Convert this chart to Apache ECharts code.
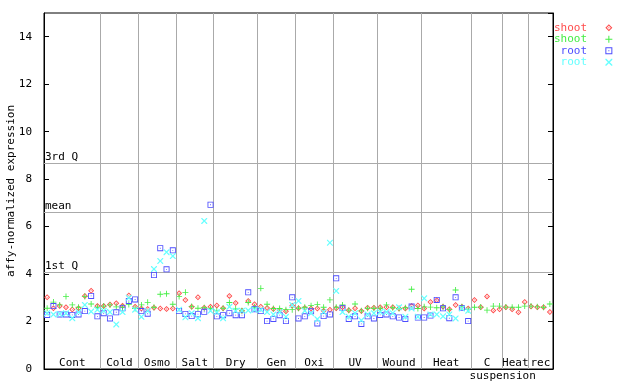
<!DOCTYPE html>
<html>
<head>
<meta charset="utf-8">
<script src="https://cdn.jsdelivr.net/npm/echarts@6/dist/echarts.min.js"></script>
<style>
html,body{margin:0;padding:0;background:#fff;}
#chart{width:640px;height:384px;}
</style>
</head>
<body>
<div id="chart"></div>
<script>
// Experiment groups along the x axis (number of samples in each)
var groupNames = ['Cont','Cold','Osmo','Salt','Dry','Gen','Oxi','UV','Wound','Heat','C','Heat','rec'];
var groupSizes = [9,6,6,6,7,6,6,7,7,8,5,4,4];
var subLabel = 'suspension';          // second line under the "C" group
var subLabelAt = 73;                  // group boundary it is centred on

// Reference statistic lines
var statValues = [4.07, 6.6, 8.66];
var statLabels = ['1st Q', 'mean', '3rd Q'];

// Y axis ticks
var yTicks = [0, 2, 4, 6, 8, 10, 12, 14];
var yMax = 15;

// Series (legend texts + values per sample, in group order)
var seriesLabels = ['shoot', 'shoot', 'root', 'root'];

var shootA = [
  3.02,2.56,2.65,2.60,2.51,2.56,3.08,3.30,2.65,   // Cont
  2.65,2.72,2.77,2.66,3.10,2.62,                  // Cold
  2.55,2.53,2.58,2.55,2.53,2.55,                  // Osmo
  3.19,2.91,2.62,3.02,2.58,2.62,                  // Salt
  2.68,2.56,3.08,2.78,2.45,2.87,2.73,             // Dry
  2.62,2.57,2.53,2.48,2.43,2.66,                  // Gen
  2.56,2.57,2.55,2.55,2.45,2.50,                  // Oxi
  2.56,2.60,2.48,2.56,2.44,2.58,2.58,             // UV
  2.60,2.60,2.60,2.55,2.55,2.65,2.68,             // Wound
  2.55,2.82,2.90,2.62,2.52,2.70,2.62,2.55,        // Heat
  2.91,2.60,3.06,2.47,2.52,                       // C suspension
  2.60,2.52,2.39,2.82,                            // Heat
  2.63,2.60,2.60,2.40                             // rec
];
var shootB = [
  2.56,2.82,2.70,3.06,2.70,2.60,3.06,2.74,2.60,
  2.65,2.70,2.62,2.60,2.72,2.55,
  2.70,2.81,2.60,3.15,3.17,2.73,
  3.05,3.23,2.63,2.56,2.58,2.55,
  2.45,2.56,2.80,2.53,2.45,2.80,2.60,
  3.40,2.73,2.55,2.55,2.50,2.50,
  2.56,2.60,2.67,2.72,2.60,2.91,
  2.60,2.70,2.48,2.74,2.45,2.56,2.56,
  2.56,2.70,2.58,2.55,2.58,3.36,2.55,
  2.62,2.61,2.58,2.62,2.50,3.33,2.62,2.50,
  2.60,2.61,2.48,2.65,2.65,
  2.61,2.60,2.60,2.65,
  2.65,2.62,2.60,2.74
];
var rootA = [
  2.28,2.65,2.30,2.30,2.28,2.30,2.44,3.08,2.22,
  2.35,2.13,2.39,2.56,2.87,2.93,
  2.44,2.33,3.96,5.09,4.20,5.00,
  2.44,2.32,2.23,2.31,2.41,6.92,
  2.22,2.27,2.35,2.27,2.27,3.23,2.52,
  2.44,2.02,2.11,2.27,2.02,3.02,
  2.13,2.22,2.43,1.92,2.23,2.30,
  3.82,2.57,2.11,2.22,1.90,2.22,2.13,
  2.28,2.30,2.22,2.17,2.11,2.63,2.17,
  2.17,2.25,2.91,2.56,2.14,3.02,2.57,2.02,
  null,null,null,null,null,
  null,null,null,null,
  null,null,null,null
];
var rootB = [
  2.35,2.30,2.32,2.35,2.14,2.40,2.70,2.42,2.50,
  2.45,2.40,1.88,2.40,3.00,2.50,
  2.20,2.45,4.21,4.55,4.92,4.76,
  2.50,2.18,2.35,2.14,6.24,2.45,
  2.40,2.14,2.62,2.45,2.45,2.47,2.50,
  2.50,2.40,2.30,2.40,2.20,2.70,
  2.87,2.45,2.35,2.10,2.40,5.32,
  3.29,2.40,2.20,2.35,2.05,2.30,2.35,
  2.40,2.40,2.35,2.60,2.20,2.55,2.20,
  2.98,2.30,2.30,2.22,2.30,2.13,2.55,2.45,
  null,null,null,null,null,
  null,null,null,null,
  null,null,null,null
];

var colors = ['#ff4d4d', '#44ee44', '#4d4dff', '#66ffff'];
var symbols = [
  'path://M3.5,0 L7,3.5 L3.5,7 L0,3.5 Z M3.5,1.5 L1.5,3.5 L3.5,5.5 L5.5,3.5 Z M3,3 L4,3 L4,4 L3,4 Z',
  'path://M3,0 L4,0 L4,3 L7,3 L7,4 L4,4 L4,7 L3,7 L3,4 L0,4 L0,3 L3,3 Z',
  'path://M0,0 L7,0 L7,7 L0,7 Z M1,1 L1,6 L6,6 L6,1 Z M3,3 L4,3 L4,4 L3,4 Z',
  'path://M0,0 L1,0 L3.5,2.5 L6,0 L7,0 L7,1 L4.5,3.5 L7,6 L7,7 L6,7 L3.5,4.5 L1,7 L0,7 L0,6 L2.5,3.5 L0,1 Z'
];
var seriesValues = [shootA, shootB, rootA, rootB];
var seriesIds = ['shoot A', 'shoot B', 'root A', 'root B'];

var nSamples = groupSizes.reduce(function (a, b) { return a + b; }, 0);
var bounds = [];
var acc = 0;
var areas = [];
groupSizes.forEach(function (s, i) {
  areas.push([{ xAxis: acc, name: groupNames[i] }, { xAxis: acc + s }]);
  acc += s;
  if (i < groupSizes.length - 1) bounds.push(acc);
});

var FONT = 'DejaVu Sans Mono';

var series = seriesValues.map(function (vals, k) {
  var data = [];
  vals.forEach(function (v, i) { if (v != null) data.push([i + 0.5, v]); });
  return {
    name: seriesIds[k],
    type: 'scatter',
    symbol: symbols[k],
    symbolSize: 6,
    itemStyle: { color: colors[k], opacity: 1 },
    data: data,
    z: 3 + k,
    animation: false
  };
});

// helper series carrying the reference lines, group separators and group labels
series.unshift({
  name: 'frame',
  type: 'scatter',
  data: [],
  silent: true,
  animation: false,
  markLine: {
    silent: true,
    symbol: 'none',
    animation: false,
    lineStyle: { color: '#aaaaaa', type: 'solid', width: 1 },
    data: bounds.map(function (b) { return { xAxis: b, label: { show: false } }; })
      .concat(statValues.map(function (v, i) {
        return {
          yAxis: v,
          label: {
            show: true, formatter: statLabels[i], position: 'insideStartTop',
            distance: [1, 1], color: '#000', fontFamily: FONT, fontSize: 11
          }
        };
      }))
  },
  markArea: {
    silent: true,
    animation: false,
    itemStyle: { color: 'rgba(0,0,0,0)' },
    label: {
      show: true, position: 'insideBottom', distance: 0,
      color: '#000', fontFamily: FONT, fontSize: 11, lineHeight: 11
    },
    data: areas
  },
  markPoint: {
    silent: true,
    animation: false,
    symbol: 'circle',
    symbolSize: 0,
    label: {
      show: true, formatter: subLabel, position: 'bottom', distance: 2,
      color: '#000', fontFamily: FONT, fontSize: 11
    },
    data: [{ coord: [subLabelAt, 0] }]
  }
});

var chart = echarts.init(document.getElementById('chart'), null, { renderer: 'canvas' });
chart.setOption({
  animation: false,
  backgroundColor: '#ffffff',
  grid: {
    left: 44, right: 87, top: 13, bottom: 15,
    containLabel: false, outerBoundsMode: 'none',
    show: true, borderColor: '#000', borderWidth: 1
  },
  legend: {
    orient: 'vertical',
    left: 549,
    top: 17,
    align: 'right',
    itemWidth: 7,
    itemHeight: 7,
    itemGap: 0,
    selectedMode: false,
    formatter: function (name) {
      var l = seriesLabels[seriesIds.indexOf(name)];
      while (l.length < 5) l = ' ' + l;
      return l + '  ';
    },
    textStyle: { fontFamily: FONT, fontSize: 11, lineHeight: 11.5 },
    data: seriesIds.map(function (n, k) {
      return { name: n, icon: symbols[k], itemStyle: { color: colors[k] }, textStyle: { color: colors[k] } };
    })
  },
  xAxis: {
    type: 'value',
    min: 0,
    max: nSamples,
    axisLine: { show: true, lineStyle: { color: '#000', width: 1 } },
    axisTick: { show: false },
    axisLabel: { show: false },
    splitLine: { show: false }
  },
  yAxis: [{
    type: 'value',
    min: 0,
    max: yMax,
    interval: 2,
    name: 'affy-normalized expression',
    nameLocation: 'middle',
    nameGap: 27,
    nameMoveOverlap: false,
    nameTextStyle: { fontFamily: FONT, fontSize: 11, color: '#000' },
    axisLine: { show: true, lineStyle: { color: '#000', width: 1 } },
    axisTick: { show: true, inside: true, length: 5, lineStyle: { color: '#000' } },
    axisLabel: {
      show: true, margin: 12, color: '#000', fontFamily: FONT, fontSize: 11,
      showMaxLabel: false,
      formatter: function (v) { return yTicks.indexOf(v) >= 0 ? String(v) : ''; }
    },
    splitLine: { show: false }
  }, {
    type: 'value',
    position: 'right',
    min: 0,
    max: yMax,
    interval: 2,
    axisLine: { show: true, lineStyle: { color: '#000', width: 1 } },
    axisTick: { show: true, inside: true, length: 5, lineStyle: { color: '#000' } },
    axisLabel: { show: false },
    splitLine: { show: false }
  }],
  series: series
});
</script>
</body>
</html>
